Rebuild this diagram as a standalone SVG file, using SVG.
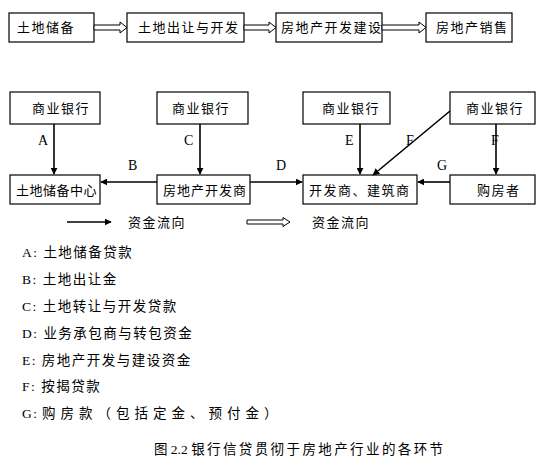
<svg xmlns="http://www.w3.org/2000/svg" width="553" height="469" viewBox="0 0 553 469">
<style>
.box{fill:#fff;stroke:#000;stroke-width:1.2}
.t{font-family:"Noto Sans CJK SC","Liberation Serif",sans-serif;font-size:13px;fill:#000;letter-spacing:1.5px}
.lab{font-family:"Liberation Serif","Noto Sans CJK SC",serif;font-size:14px;fill:#000}
.leg{font-family:"Liberation Serif","Noto Sans CJK SC",serif;font-size:13.5px;fill:#000;letter-spacing:1.5px}
.ln{stroke:#000;stroke-width:1.6;fill:none}
.hol{fill:#fff;stroke:#000;stroke-width:1}
</style>
<defs>
<marker id="ah" viewBox="0 0 10 10" refX="9" refY="5" markerWidth="7" markerHeight="7" markerUnits="userSpaceOnUse" orient="auto">
<path d="M0,0 L10,5 L0,10 z" fill="#000"/>
</marker>
</defs>
<rect width="553" height="469" fill="#fff"/>
<g id="n1"><rect class="box" x="9" y="13" width="85" height="29"/><text class="t" x="17" y="32">土地储备</text></g>
<g id="n2"><rect class="box" x="127" y="13" width="117" height="29"/><text class="t" x="138" y="32">土地出让与开发</text></g>
<g id="n3"><rect class="box" x="276" y="13" width="106" height="29"/><text class="t" x="281" y="32">房地产开发建设</text></g>
<g id="n4"><rect class="box" x="426" y="13" width="86" height="29"/><text class="t" x="436" y="32">房地产销售</text></g>
<g id="b1"><rect class="box" x="10" y="92" width="90" height="32"/><text class="t" x="32" y="113">商业银行</text></g>
<g id="b2"><rect class="box" x="157" y="92" width="91" height="32"/><text class="t" x="172" y="113">商业银行</text></g>
<g id="b3"><rect class="box" x="303" y="92" width="87" height="32"/><text class="t" x="322" y="113">商业银行</text></g>
<g id="b4"><rect class="box" x="450" y="92" width="85" height="32"/><text class="t" x="466" y="113">商业银行</text></g>
<g id="c1"><rect class="box" x="10" y="175" width="90" height="29"/><text class="t" x="16" y="195" style="letter-spacing:0.5px">土地储备中心</text></g>
<g id="c2"><rect class="box" x="157" y="175" width="93" height="29"/><text class="t" x="163" y="195" style="letter-spacing:1px">房地产开发商</text></g>
<g id="c3"><rect class="box" x="303" y="175" width="114" height="29"/><text class="t" x="309" y="195">开发商、建筑商</text></g>
<g id="c4"><rect class="box" x="450" y="175" width="85" height="29"/><text class="t" x="477" y="195">购房者</text></g>
<g id="connectors">
<path class="hol" d="M94,25 H120 V22 L127,27.5 L120,33 V30 H94 Z"/>
<path class="hol" d="M244,25 H269 V22 L276,27.5 L269,33 V30 H244 Z"/>
<path class="hol" d="M382,25 H419 V22 L426,27.5 L419,33 V30 H382 Z"/>
<line class="ln" x1="54" y1="124" x2="54" y2="174" marker-end="url(#ah)"/>
<line class="ln" x1="200" y1="124" x2="200" y2="174" marker-end="url(#ah)"/>
<line class="ln" x1="360" y1="124" x2="360" y2="174" marker-end="url(#ah)"/>
<line class="ln" x1="450" y1="111" x2="373" y2="175" marker-end="url(#ah)"/>
<line class="ln" x1="496" y1="124" x2="496" y2="174" marker-end="url(#ah)"/>
<line class="ln" x1="157" y1="182" x2="101" y2="182" marker-end="url(#ah)"/>
<line class="ln" x1="250" y1="182" x2="302" y2="182" marker-end="url(#ah)"/>
<line class="ln" x1="450" y1="182" x2="418" y2="182" marker-end="url(#ah)"/>
<text class="lab" x="38" y="145">A</text>
<text class="lab" x="128" y="170">B</text>
<text class="lab" x="184" y="145">C</text>
<text class="lab" x="276" y="170">D</text>
<text class="lab" x="345" y="145">E</text>
<text class="lab" x="406" y="145">F</text>
<text class="lab" x="491" y="145">F</text>
<text class="lab" x="437" y="170">G</text>
<line class="ln" x1="67" y1="222" x2="111" y2="222" marker-end="url(#ah)"/>
<path class="hol" d="M247,220 H283 V217.5 L290,222 L283,226.5 V224 H247 Z"/>
</g>
<text class="t" x="128" y="227">资金流向</text>
<text class="t" x="312" y="227">资金流向</text>
<text class="leg" x="22" y="257">A: 土地储备贷款</text>
<text class="leg" x="22" y="284">B: 土地出让金</text>
<text class="leg" x="22" y="311">C: 土地转让与开发贷款</text>
<text class="leg" x="22" y="338">D: 业务承包商与转包资金</text>
<text class="leg" x="22" y="365">E: 房地产开发与建设资金</text>
<text class="leg" x="22" y="391">F: 按揭贷款</text>
<text class="leg" x="22" y="418">G: <tspan x="42" style="letter-spacing:5px">购房款（包括定金、预付金）</tspan></text>
<text class="leg" x="154" y="454" style="letter-spacing:0">图 2.2 <tspan style="letter-spacing:2.4px">银行信贷贯彻于房地产行业的各环节</tspan></text>
</svg>
